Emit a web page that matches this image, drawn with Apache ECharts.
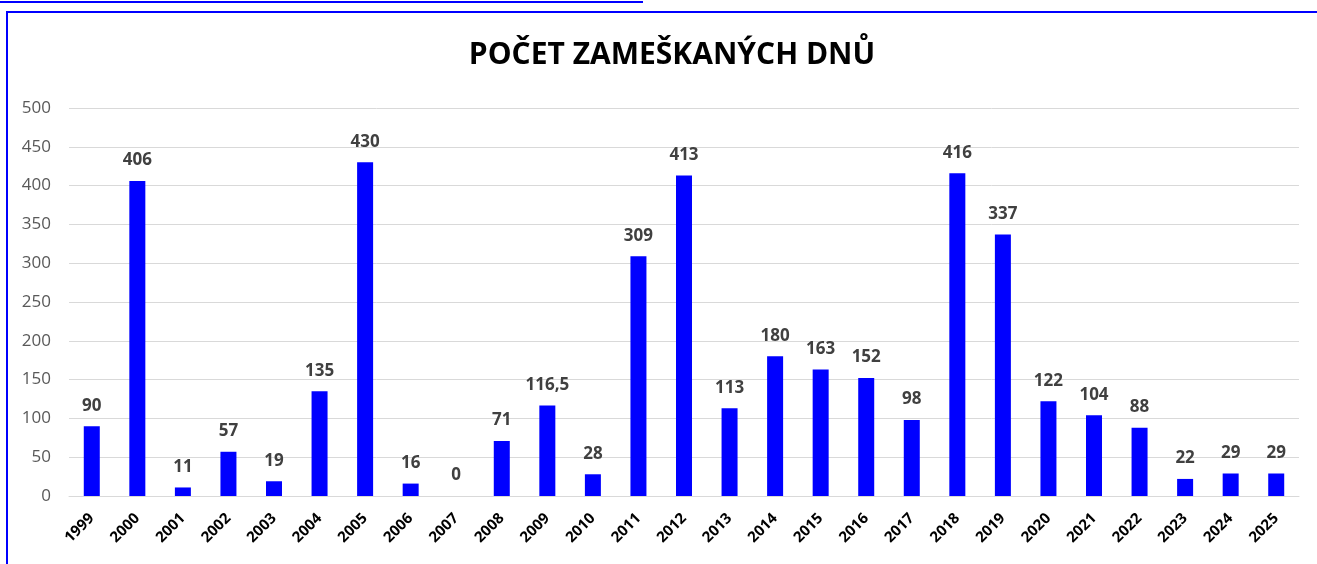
<!DOCTYPE html>
<html>
<head>
<meta charset="utf-8">
<script src="https://cdn.jsdelivr.net/npm/echarts@6/dist/echarts.min.js"></script>
<style>
  html, body { margin: 0; padding: 0; background: #fff; }
  #chart { width: 1317px; height: 564px; }
</style>
</head>
<body>
<div id="chart"></div>
<script>
// roky
const years = ['1999', '2000', '2001', '2002', '2003', '2004', '2005', '2006', '2007', '2008',
  '2009', '2010', '2011', '2012', '2013', '2014', '2015', '2016', '2017', '2018',
  '2019', '2020', '2021', '2022', '2023', '2024', '2025'];
// zameškané dny
const missedDays = [90, 406, 11, 57, 19, 135, 430, 16, 0, 71,
  116.5, 28, 309, 413, 113, 180, 163, 152, 98, 416,
  337, 122, 104, 88, 22, 29, 29];
const yTicks = [0, 50, 100, 150, 200, 250, 300, 350, 400, 450, 500];

const chart = echarts.init(document.getElementById('chart'));

const option = {
  animation: false,
  backgroundColor: '#fff',
  title: {
    text: 'POČET ZAMEŠKANÝCH DNŮ',
    left: 667,
    textAlign: 'center',
    top: 35,
    textStyle: {
      fontFamily: 'Open Sans',
      fontSize: 30,
      fontWeight: 'bold',
      color: '#000'
    }
  },
  graphic: [
    { type: 'line', shape: { x1: 0, y1: 2, x2: 643, y2: 2 }, style: { stroke: '#0000ff', lineWidth: 2 } },
    { type: 'rect', shape: { x: 7, y: 12, width: 1320, height: 600 }, style: { fill: null, stroke: '#0000ff', lineWidth: 2 } }
  ],
  grid: {
    left: 69,
    right: 18,
    top: 108,
    bottom: 68
  },
  xAxis: {
    type: 'category',
    data: years,
    axisLine: { lineStyle: { color: '#d9d9d9', width: 1 } },
    axisTick: { show: false },
    axisLabel: {
      rotate: 45,
      interval: 0,
      margin: 20,
      fontFamily: 'Open Sans',
      fontSize: 15,
      fontWeight: 'bold',
      color: '#000'
    }
  },
  yAxis: {
    type: 'value',
    min: yTicks[0],
    max: yTicks[yTicks.length - 1],
    interval: 50,
    axisLine: { show: false },
    axisTick: { show: false },
    splitLine: { lineStyle: { color: '#d9d9d9', width: 1 } },
    axisLabel: {
      margin: 18,
      fontFamily: 'Open Sans',
      fontSize: 17,
      color: '#595959'
    }
  },
  series: [{
    type: 'bar',
    data: missedDays,
    barWidth: 16,
    itemStyle: { color: '#0000ff' },
    label: {
      show: true,
      position: 'top',
      distance: 12,
      fontFamily: 'Open Sans',
      fontSize: 17,
      fontWeight: 'bold',
      color: '#404040',
      formatter: p => String(p.value).replace('.', ',')
    }
  }]
};

chart.setOption(option);
</script>
</body>
</html>
